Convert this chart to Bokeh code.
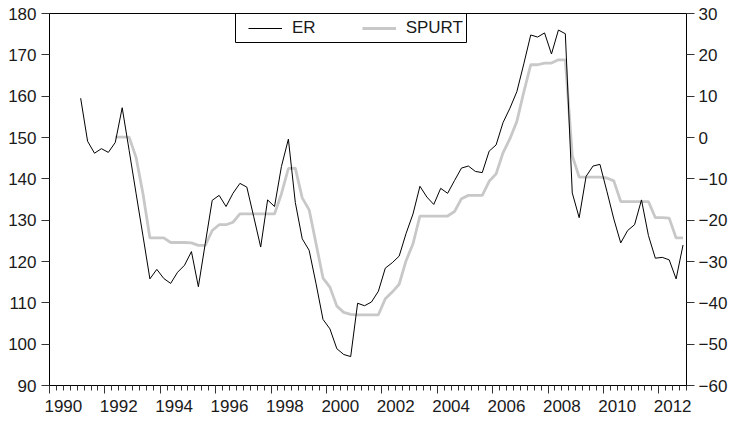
import numpy as np
import pandas as pd
from bokeh.plotting import figure
from bokeh.models import (Range1d, LinearAxis, FixedTicker, Legend, LegendItem,
                          BoxAnnotation, ColumnDataSource)
from bokeh.embed import file_html
from bokeh.resources import INLINE

# ---- data (quarterly, 1991Q1 - 2012Q4) ----
quarters = pd.period_range("1991Q1", "2012Q4", freq="Q")

er = [159.5, 149.1, 146.2, 147.3, 146.4, 148.8, 157.2, 146.9, 136.5, 126.2,
      115.8, 118.1, 115.9, 114.7, 117.4, 119.1, 122.4, 113.9, 124.4, 134.8,
      136.0, 133.3, 136.5, 138.9, 138.0, 130.8, 123.5, 134.9, 133.3, 143.0,
      149.6, 134.3, 125.5, 122.7, 114.6, 106.0, 103.7, 98.9, 97.5, 97.0,
      109.9, 109.3, 110.2, 112.8, 118.4, 119.7, 121.3, 126.8, 131.5, 138.2,
      135.6, 133.8, 137.7, 136.5, 139.6, 142.6, 143.1, 141.8, 141.5, 146.7,
      148.2, 153.6, 157.1, 161.1, 167.8, 174.8, 174.3, 175.3, 170.2, 176.0,
      175.1, 136.6, 130.6, 140.6, 143.1, 143.5, 137.0, 130.3, 124.5, 127.5,
      128.9, 134.9, 126.3, 120.8, 121.0, 120.4, 115.8, 124.0]

spurt = [np.nan, np.nan, np.nan, np.nan, np.nan, 0.1, 0.1, 0.1, -4.8, -13.6,
         -24.3, -24.3, -24.3, -25.4, -25.4, -25.4, -25.5, -26.1, -26.1, -22.5,
         -21.1, -21.1, -20.5, -18.5, -18.5, -18.5, -18.5, -18.5, -18.5, -13.6,
         -7.5, -7.4, -14.6, -17.5, -25.7, -34.0, -36.2, -40.8, -42.3, -42.8,
         -42.9, -42.9, -42.9, -42.9, -39.0, -37.4, -35.5, -29.8, -25.7, -19.0,
         -19.0, -19.0, -19.0, -19.0, -17.9, -14.8, -14.0, -14.0, -14.0, -10.6,
         -8.8, -3.7, -0.3, 3.9, 11.0, 17.6, 17.6, 18.0, 18.0, 18.8,
         18.8, -4.4, -9.6, -9.6, -9.6, -9.6, -9.8, -10.5, -15.5, -15.5,
         -15.5, -15.5, -15.5, -19.4, -19.4, -19.5, -24.3, -24.3]

left_ticks = [90, 100, 110, 120, 130, 140, 150, 160, 170, 180]
right_ticks = [-60, -50, -40, -30, -20, -10, 0, 10, 20, 30]
year_labels = ["1990", "1992", "1994", "1996", "1998", "2000",
               "2002", "2004", "2006", "2008", "2010", "2012"]

# mid-quarter decimal dates
x = np.array(quarters.year + (quarters.quarter - 1) * 0.25 + 0.125, dtype=float)
src = ColumnDataSource(dict(x=x, er=er, spurt=spurt))

FONT = "Liberation Sans"
FS = "17px"
TXT = "#1a1a1a"

p = figure(width=730, height=422, x_range=Range1d(1990, 2013), y_range=Range1d(90, 180),
           x_axis_type=None, y_axis_type=None, output_backend="svg", toolbar_location=None,
           min_border_left=49, min_border_right=36, min_border_top=13, min_border_bottom=37)
p.extra_y_ranges = {"spurt": Range1d(-60, 30)}
p.outline_line_color = "black"
p.outline_line_alpha = 1
p.outline_line_width = 1
p.background_fill_color = "white"
p.border_fill_color = "white"

def style(ax):
    ax.axis_line_color = "black"
    ax.major_tick_line_color = "#333333"
    ax.minor_tick_line_color = "#333333"
    ax.major_tick_in = 0
    ax.minor_tick_in = 0
    ax.major_label_text_font = FONT
    ax.major_label_text_font_size = FS
    ax.major_label_text_color = TXT

yl = LinearAxis(ticker=FixedTicker(ticks=left_ticks, minor_ticks=[]))
style(yl)
yl.major_tick_out = 8
yl.major_label_standoff = 5
p.add_layout(yl, "left")

yr = LinearAxis(y_range_name="spurt", ticker=FixedTicker(ticks=right_ticks, minor_ticks=[]))
style(yr)
yr.major_tick_out = 8
yr.major_label_standoff = 4
p.add_layout(yr, "right")

# bottom axis: tick marks at year boundaries (major every 2 years, minor quarterly)
years = [int(s) for s in year_labels]
quarter_marks = [1990 + 0.25 * k for k in range(0, 93)]
xa = LinearAxis(ticker=FixedTicker(ticks=years, minor_ticks=quarter_marks))
style(xa)
xa.major_tick_out = 8
xa.minor_tick_out = 5
xa.major_label_standoff = 0
xa.major_label_text_font_size = "0px"
xa.major_label_overrides = {y: "" for y in years}
p.add_layout(xa, "below")

# bottom labels centred in the labelled year
mids = [y + 0.5 for y in years]
xb = LinearAxis(ticker=FixedTicker(ticks=mids, minor_ticks=[]))
style(xb)
xb.axis_line_color = None
xb.major_tick_line_color = None
xb.major_tick_out = 0
xb.major_label_standoff = 6
xb.major_label_overrides = {m: lab for m, lab in zip(mids, year_labels)}
p.add_layout(xb, "below")

sp_r = p.line("x", "spurt", source=src, y_range_name="spurt", line_color="#c8c8c8", line_width=2.8)
er_r = p.line("x", "er", source=src, line_color="black", line_width=1)

legend = Legend(items=[LegendItem(label="ER", renderers=[er_r]),
                       LegendItem(label="SPURT", renderers=[sp_r])],
                orientation="horizontal", location=(199, 347),
                padding=0, margin=0, spacing=46, glyph_width=34, glyph_height=20,
                label_standoff=10, label_height=20,
                label_text_font=FONT, label_text_font_size=FS, label_text_color=TXT,
                border_line_color=None, background_fill_alpha=0)
p.add_layout(legend, "center")

box = BoxAnnotation(left=186, right=417, bottom=343,
                    left_units="screen", right_units="screen", bottom_units="screen",
                    fill_color=None, fill_alpha=0, line_color="black", line_width=1, line_alpha=1)
p.add_layout(box)

open("out.html", "w").write(file_html(p, INLINE))
